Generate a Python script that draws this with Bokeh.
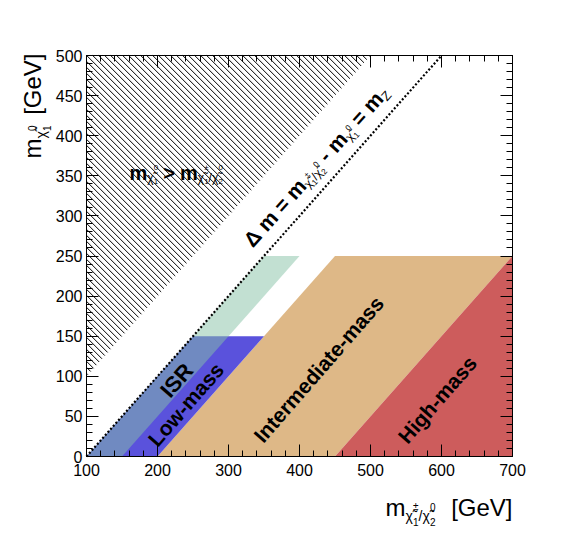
import math
import unicodedata
import numpy as np
from bokeh.plotting import figure
from bokeh.models import (Range1d, LinearAxis, SingleIntervalTicker, Label,
                          CustomLabelingPolicy)
from bokeh.embed import file_html
from bokeh.resources import INLINE

# ---------------- data ----------------
x_range_vals = (100, 700)
y_range_vals = (0, 500)
x_tick_interval = 100
y_tick_interval = 50

# forbidden region m(chi1) > m(chi2): bounded by x = 100, y = 500 and y = x
forbidden_x = [100, 100, 500]
forbidden_y = [100, 500, 500]
# Delta m = m_Z line
dm_line_x = [100, 600]
dm_line_y = [0, 500]
# regions
lowmass_x = [100, 200, 350, 250]
lowmass_y = [0, 0, 150, 150]
isr_x = [100, 150, 400, 350]
isr_y = [0, 0, 250, 250]
inter_x = [200, 450, 700, 450]
inter_y = [0, 0, 250, 250]
high_x = [450, 700, 700]
high_y = [0, 0, 250]

region_labels = ["ISR", "Low-mass", "Intermediate-mass", "High-mass"]
region_label_x = [227, 240, 427, 594]
region_label_y = [95, 65, 109, 71]

FONT = "Liberation Sans"

# canvas and plot-box geometry (pixels)
WC, HC = 564, 535
FL, FR, FT, FB = 86, 512, 55, 456
HATCH_SPACING = 6.0  # px

x0, x1 = x_range_vals
y0, y1 = y_range_vals
sxp = (FR - FL) / (x1 - x0)
syp = (FB - FT) / (y1 - y0)
xlo = x0 - FL / sxp
xhi = x0 + (WC - FL) / sxp
yhi = y1 + FT / syp
ylo = y0 - (HC - FB) / syp

p = figure(width=WC, height=HC, output_backend="svg", toolbar_location=None,
           x_range=Range1d(xlo, xhi), y_range=Range1d(ylo, yhi),
           min_border=0, min_border_left=0, min_border_right=0,
           min_border_top=0, min_border_bottom=0,
           x_axis_type=None, y_axis_type=None)
p.xgrid.visible = False
p.ygrid.visible = False
p.outline_line_color = None
p.background_fill_color = "white"
p.border_fill_color = "white"


def make_axis(interval, loc, bounds, show_labels, standoff):
    ax = LinearAxis(ticker=SingleIntervalTicker(interval=interval, num_minor_ticks=5),
                    fixed_location=loc, bounds=bounds)
    ax.major_tick_in = 12
    ax.major_tick_out = 0
    ax.minor_tick_in = 6
    ax.minor_tick_out = 0
    ax.axis_line_color = "black"
    ax.axis_line_width = 1
    ax.major_tick_line_color = "black"
    ax.minor_tick_line_color = "black"
    ax.major_label_text_font = FONT
    ax.major_label_text_color = "black"
    ax.major_label_text_font_size = "16px"
    ax.major_label_standoff = standoff
    if not show_labels:
        ax.major_label_policy = CustomLabelingPolicy(code="return false")
    return ax


# regions
p.patch(inter_x, inter_y, fill_color="#deb887", line_color=None)
p.patch(high_x, high_y, fill_color="#cd5c5c", line_color=None)
p.patch(lowmass_x, lowmass_y, fill_color="#5a52dc", line_color=None)
p.patch(isr_x, isr_y, fill_color="#85c1a5", fill_alpha=0.5, line_color=None)

# 45-degree (screen) hatch of the forbidden triangle, derived from its vertices
left_x = forbidden_x[0]
bottom_y = forbidden_y[0]
top_y = forbidden_y[1]
right_x = forbidden_x[2]
k_min = (bottom_y - y0) * syp + (left_x - x0) * sxp
k_max = (top_y - y0) * syp + (right_x - x0) * sxp
hx, hy = [], []
for k in np.arange(k_min + HATCH_SPACING / 2, k_max, HATCH_SPACING):
    # upper-left end: on x = left_x or on y = top_y
    ya = y0 + (k - (left_x - x0) * sxp) / syp
    if ya <= top_y:
        xa = left_x
    else:
        ya = top_y
        xa = x0 + (k - (top_y - y0) * syp) / sxp
    # lower-right end: on the diagonal y = x
    xb = (k + x0 * sxp + y0 * syp) / (sxp + syp)
    yb = xb
    hx.append([xa, xb])
    hy.append([ya, yb])
p.multi_line(hx, hy, line_color="black", line_width=1)

p.line(dm_line_x, dm_line_y, line_color="black", line_width=2.2, line_dash="2 2")

p.add_layout(make_axis(x_tick_interval, y0, x_range_vals, True, 7), "below")
p.add_layout(make_axis(x_tick_interval, y1, x_range_vals, False, 0), "above")
p.add_layout(make_axis(y_tick_interval, x0, y_range_vals, True, 4), "left")
p.add_layout(make_axis(y_tick_interval, x1, y_range_vals, False, 0), "right")

ang = math.radians(49)
for t, lx, ly in zip(region_labels, region_label_x, region_label_y):
    size = "22px" if t == "ISR" else "21px"
    p.add_layout(Label(x=lx, y=ly, text=t, angle=ang, text_align="center",
                       text_baseline="middle", text_font=FONT,
                       text_font_style="bold", text_font_size=size,
                       text_color="black"))

# ------------- composite (sub/superscript) texts -------------
W_REG = {" ": 278, "m": 833, "[": 278, "]": 278, "G": 778, "e": 556, "V": 667,
         "/": 278, "±": 584, "χ": 540, "0": 556, "1": 556, "2": 556, "Z": 611}
W_BOLD = {" ": 278, "m": 889, "=": 584, "-": 333, ">": 584, "Δ": 700, "Z": 611}


def text_w(t, size, bold):
    tbl = W_BOLD if bold else W_REG
    return sum(tbl.get(c, 556) for c in t if not unicodedata.combining(c)) / 1000.0 * size


def to_dx(px):
    return x0 + (px - FL) / sxp


def to_dy(py):
    return y0 + (FB - py) / syp


def compose(pieces, px0, py0, ang_deg):
    a = math.radians(ang_deg)
    ux, uy = math.cos(a), -math.sin(a)
    nx, ny = -math.sin(a), -math.cos(a)
    cur = 0.0
    for t, size, bold, rise, adv in pieces:
        if t is not None:
            sx = px0 + cur * ux + rise * nx
            sy = py0 + cur * uy + rise * ny
            p.add_layout(Label(x=to_dx(sx), y=to_dy(sy), text=t, angle=a,
                               text_align="left", text_baseline="alphabetic",
                               text_font=FONT, text_font_size=f"{size}px",
                               text_font_style="bold" if bold else "normal",
                               text_color="black"))
            cur += text_w(t, size, bold) if adv is None else adv
        else:
            cur += adv


CHI = "\u03c7\u0303"

# Delta m label along the line
F = 21
s1, s2 = 12, 8
dm_pieces = [
    ("Δ m = m", F, True, 0, None),
    (CHI, s1, False, -6, None),
    ("±", s2, False, 1, 0),
    ("1", s2, False, -10, text_w("1", s2, False)),
    ("/", s1, False, -6, None),
    (CHI, s1, False, -6, None),
    ("0", s2, False, 1, 0),
    ("2", s2, False, -10, text_w("2", s2, False)),
    (None, 0, False, 0, 6),
    ("-", F, True, 0, None),
    (None, 0, False, 0, 6),
    ("m", F, True, 0, None),
    (CHI, s1, False, -6, None),
    ("0", s2, False, 1, 0),
    ("1", s2, False, -10, text_w("1", s2, False)),
    (None, 0, False, 0, 6),
    ("=", F, True, 0, None),
    (None, 0, False, 0, 6),
    ("m", F, True, 0, None),
    ("Z", 13, False, -6, None),
]
compose(dm_pieces, 247, 243, 48.5)

# m(chi1) > m(chi2) label
F2, t1, t2 = 20, 12, 8
forb_pieces = [
    ("m", F2, True, 0, None),
    (CHI, t1, False, -5, None),
    ("0", t2, False, 5, 0),
    ("1", t2, False, -9, text_w("1", t2, False)),
    (None, 0, False, 0, 5),
    (">", F2, True, 0, None),
    (None, 0, False, 0, 5),
    ("m", F2, True, 0, None),
    (CHI, t1, False, -5, None),
    ("±", t2, False, 5, 0),
    ("1", t2, False, -9, text_w("1", t2, False)),
    ("/", t1, False, -5, None),
    (CHI, t1, False, -5, None),
    ("0", t2, False, 5, 0),
    ("2", t2, False, -9, text_w("2", t2, False)),
]
compose(forb_pieces, 129, 172, 0)

# axis titles
A = 24
u1, u2 = 14, 10
x_title = [
    ("m", A, False, 0, None),
    (CHI, u1, False, -8, None),
    ("±", u2, False, 1, 0),
    ("1", u2, False, -14, text_w("1", u2, False)),
    ("/", u1, False, -8, None),
    (CHI, u1, False, -8, None),
    ("0", u2, False, 1, 0),
    ("2", u2, False, -14, text_w("2", u2, False)),
]
compose(x_title, 385, 507, 0)
p.add_layout(Label(x=to_dx(512), y=to_dy(507), text="[GeV]", text_align="right",
                   text_baseline="alphabetic", text_font=FONT,
                   text_font_size=f"{A}px", text_color="black"))

y_title = [
    ("m", A, False, 0, None),
    (CHI, u1, False, -8, None),
    ("0", u2, False, 1, 0),
    ("1", u2, False, -14, text_w("1", u2, False)),
]
compose(y_title, 32, 158, 90)
p.add_layout(Label(x=to_dx(32), y=to_dy(53), text="[GeV]", angle=math.pi / 2,
                   text_align="right", text_baseline="alphabetic",
                   text_font=FONT, text_font_size=f"{A}px", text_color="black"))

open("out.html", "w").write(file_html(p, INLINE))
